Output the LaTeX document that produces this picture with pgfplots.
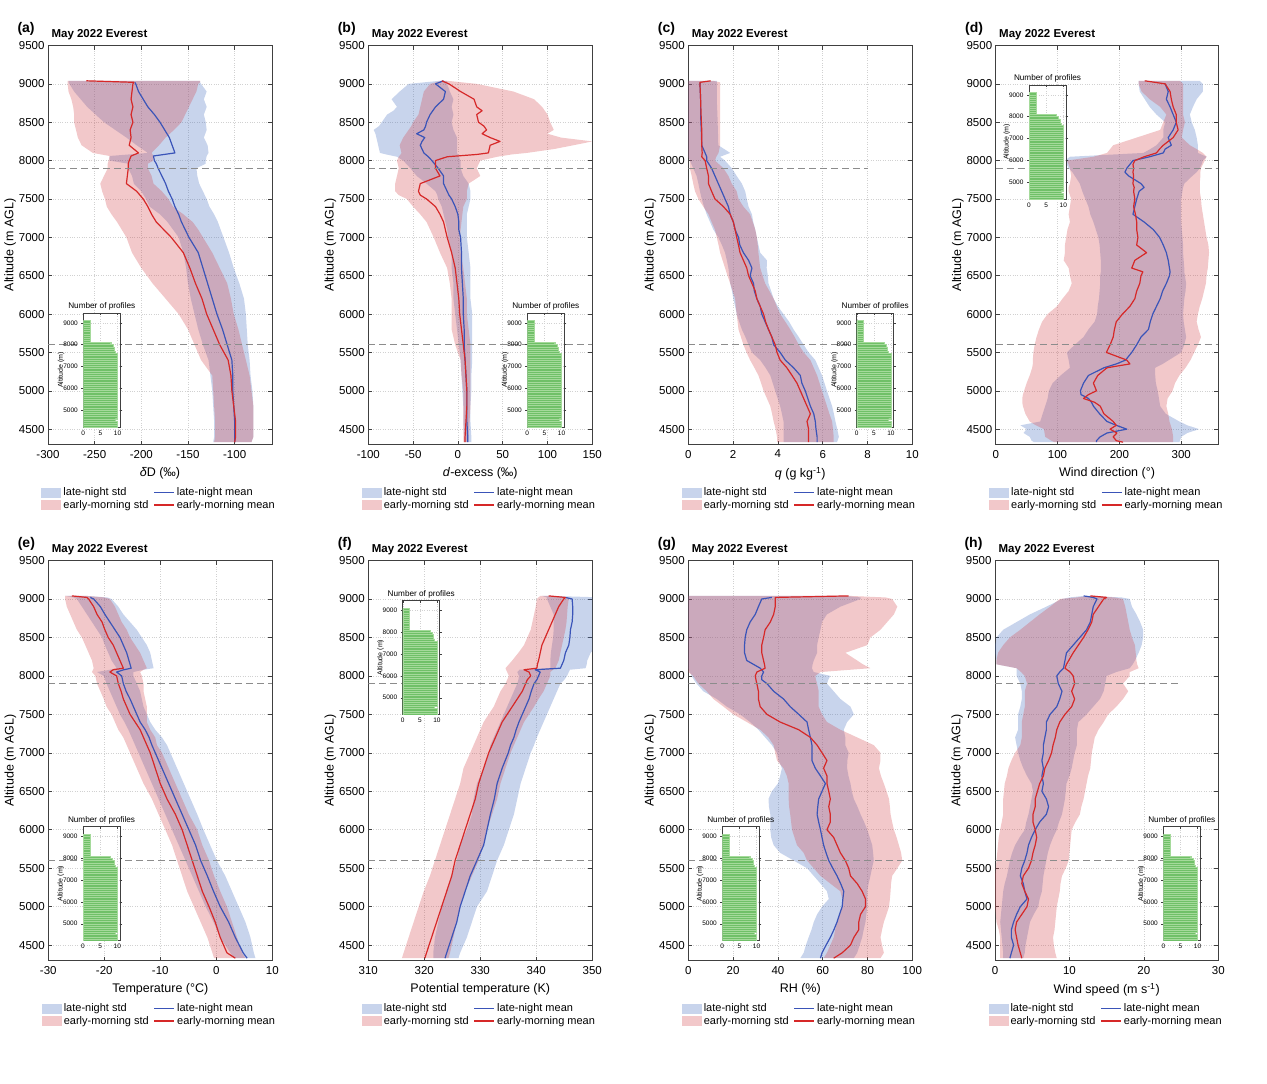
\documentclass[border=0pt]{standalone}
\usepackage{fontspec}
\setmainfont{Liberation Sans}
\usepackage{pgfplots}
\usepackage{pgfplotstable}
\pgfplotsset{compat=1.18}

\definecolor{bandblue}{RGB}{72,112,192}
\definecolor{bandred}{RGB}{212,72,78}
\definecolor{meanblue}{RGB}{58,84,184}
\definecolor{meanred}{RGB}{214,40,40}
\definecolor{histgreen}{RGB}{112,192,104}
\definecolor{histedge}{RGB}{165,218,155}

\pgfplotsset{
  every axis/.append style={/pgf/number format/assume math mode=true, /pgf/number format/1000 sep={}},
  prof/.style={
    scale only axis, width=224pt, height=399pt,
    ymin=4300, ymax=9500, ytick={4500,5000,...,9500},
    scaled ticks=false,
    tick align=inside, tick pos=both,
    major tick length=4pt,
    grid=major, major grid style={dotted, black!18, line width=0.5pt},
    axis line style={black!75, line width=0.6pt},
    every tick/.style={black!75, line width=0.5pt},
    tick label style={font=\fontsize{11.5}{13}\selectfont},
    xticklabel style={yshift=-2pt},
    label style={font=\fontsize{12.5}{14}\selectfont},
    xlabel style={yshift=-2pt},
    ylabel={Altitude (m AGL)}, ylabel shift=-4pt,
    legend columns=2,
    legend cell align=left,
    legend style={draw=none, fill=none, at={(-0.03,-0.103)}, anchor=north west,
      font=\fontsize{11}{12}\selectfont, inner sep=0pt, row sep=-1pt},
  },
  inset/.style={
    scale only axis, width=37pt, height=114pt,
    xmin=0, xmax=10.8, ymin=4220, ymax=9450,
    xtick={0,5,10}, ytick={5000,6000,7000,8000,9000},
    tick align=inside, tick pos=both, major tick length=2pt,
    grid=major, major grid style={dotted, black!18, line width=0.4pt},
    axis line style={black!75, line width=0.5pt},
    every tick/.style={black!75, line width=0.4pt},
    tick label style={font=\fontsize{6.5}{7}\selectfont},
    ylabel={Altitude (m)}, ylabel style={font=\fontsize{7}{8}\selectfont, yshift=-8pt},
    title={Number of profiles}, title style={font=\fontsize{8.2}{9}\selectfont, yshift=-7pt},
    axis background/.style={fill=white},
    xbar, bar width=100,
  },
  dline/.style={dash pattern=on 7pt off 4pt, black!45, line width=1pt, forget plot},
  meanleg/.style={legend image code/.code={\draw[##1] (0pt,0pt) -- (20pt,0pt);}},
  bandleg/.style={legend image code/.code={\path[##1] (0pt,-5pt) rectangle (20pt,5pt);}},
}

% closed band outlines: left edge going down, right edge coming up
\newcommand\mkpoly[1]{%
  \pgfplotstablesort[sort key=alt,sort cmp=float >]{\Pdn}{#1}%
  \pgfplotstablesort[sort key=alt,sort cmp=float <]{\Pup}{#1}%
  \pgfplotstablecreatecol[copy column from table={\Pdn}{bl}]{px}{\Pdn}%
  \pgfplotstablecreatecol[copy column from table={\Pdn}{rl}]{qx}{\Pdn}%
  \pgfplotstablecreatecol[copy column from table={\Pup}{bh}]{px}{\Pup}%
  \pgfplotstablecreatecol[copy column from table={\Pup}{rh}]{qx}{\Pup}%
  \pgfplotstablevertcat{\Pdn}{\Pup}%
}
\newcommand\prof[1]{%
  \addplot[fill=bandblue, fill opacity=0.3, draw=none, forget plot] table[x=px,y=alt]{\Pdn};
  \addplot[fill=bandred, fill opacity=0.3, draw=none, forget plot] table[x=qx,y=alt]{\Pdn};
  \addplot[meanblue, line width=1.2pt, line join=round, forget plot] table[x=bm,y=alt]{#1};
  \addplot[meanred, line width=1.2pt, line join=round, forget plot] table[x=rm,y=alt]{#1};
}
\newcommand\legs{%
  \addlegendimage{bandleg, draw=none, fill=bandblue, fill opacity=0.3}
  \addlegendentry{\makebox[88pt][l]{late-night std}}
  \addlegendimage{meanleg, draw=meanblue, line width=1.4pt, no markers}
  \addlegendentry{late-night mean}
  \addlegendimage{bandleg, draw=none, fill=bandred, fill opacity=0.3}
  \addlegendentry{\makebox[88pt][l]{early-morning std}}
  \addlegendimage{meanleg, draw=meanred, line width=1.4pt, no markers}
  \addlegendentry{early-morning mean}
}
\newcommand\heads[2]{%
  \node[anchor=base west, font=\bfseries\fontsize{14}{14}\selectfont] at ([xshift=-34pt,yshift=13pt]#1.north west) {(#2)};
  \node[anchor=base west, font=\bfseries\fontsize{11.5}{12}\selectfont] at ([yshift=8pt]#1.north west) {May 2022 Everest};
}

\pgfplotstableread{
y n
4250 10
4350 10
4450 10
4550 9.3
4650 10
4750 10
4850 10
4950 10
5050 10
5150 10
5250 10
5350 10
5450 10
5550 10
5650 10
5750 10
5850 10
5950 10
6050 10
6150 10
6250 10
6350 10
6450 10
6550 10
6650 10
6750 10
6850 10
6950 10
7050 10
7150 10
7250 10
7350 10
7450 10
7550 10
7650 9.3
7750 9
7850 9
7950 8.6
8050 8
8150 2
8250 2
8350 2
8450 2
8550 2
8650 2
8750 2
8850 2
8950 2
9050 2
}\hist

% (a) deltaD
\pgfplotstableread{
alt bm bl bh rm rl rh
9040 nan -278 -137 -259 -279 -137
9020 -207 -278 -137 -208 -279 -137
9000 -206 -277 -136 -209 -279 -139
8900 -203 -272 -130 -210 -278 -141
8800 -198 -265 -133 -211 -275 -145
8700 -193 -258 -130 -209 -273 -149
8600 -186 -249 -133 -211 -272 -153
8500 -180 -240 -131 -209 -272 -157
8400 -175 -228 -130 -212 -270 -165
8300 -170 -216 -133 -211 -268 -174
8200 -167 -205 -129 -213 -264 -181
8100 -164 -193 -128 -203 -252 -189
8060 -187 -234 -130 -211 -234 -187
8000 -186 -234 -131 -213 -235 -187
7960 -184 -214 -131 -214 -236 -193
7900 -182 -214 -141 -214 -236 -193
7800 -178 -210 -140 -215 -240 -189
7700 -174 -208 -138 -216 -244 -187
7600 -171 -200 -134 -205 -242 -178
7500 -167 -195 -130 -198 -239 -171
7400 -164 -191 -127 -193 -237 -166
7300 -160 -180 -122 -189 -232 -155
7200 -157 -172 -118 -184 -226 -145
7100 -153 -166 -115 -176 -221 -139
7000 -149 -160 -112 -168 -216 -134
6800 -139 -155 -106 -155 -210 -124
6600 -134 -152 -101 -148 -200 -116
6400 -129 -150 -95 -142 -188 -108
6200 -124 -147 -90 -135 -174 -104
6000 -119 -143 -88 -130 -160 -101
5800 -113 -139 -87 -123 -150 -96
5600 -108 -134 -86 -116 -143 -92
5400 -103 -128 -84 -107 -136 -88
5200 -102 -126 -83 -104 -124 -84
5000 -102 -124 -81 -103 -123 -82
4800 -101 -123 -80 -101 -122 -80
4600 -100 -122 -80 -99 -121 -80
4400 -100 -122 -80 -99 -121 -80
4330 -100 -123 -82 -100 -122 -82
}\tabA

% (b) d-excess
\pgfplotstableread{
alt bm bl bh rm rl rh
9040 -16 -20 -12 -18 -18 -12
9000 -25 -55 -12 -10 -31 21
8900 -14 -65 -9 3 -38 62
8800 -16 -74 -5 18 -40 85
8700 -25 -68 -7 21 -42 94
8650 -28 -72 -6 27 -43 97
8600 -31 -79 -5 21 -44 100
8500 -35 -85 -7 23 -50 103
8450 -36 -88 -6 29 -52 105
8400 -38 -94 -5 32 -55 107
8350 -46 -92 -3 27 -58 100
8300 -37 -91 -1 36 -61 115
8250 -40 -90 -1 47 -63 150
8200 -42 -89 -1 36 -65 129
8150 -40 -88 -1 35 -64 107
8100 -38 -87 -1 34 -63 77
8080 -36 -80 0 21 -64 60
8050 -33 -68 1 -12 -66 44
8000 -29 -61 3 -25 -68 25
7900 -22 -53 3 -25 -66 21
7800 -16 -46 6 -20 -68 25
7700 -16 -35 12 -42 -70 12
7600 -12 -25 14 -44 -70 10
7550 -10 -23 14 -42 -66 10
7500 -7 -22 14 -35 -57 10
7400 -3 -18 12 -25 -50 6
7300 0 -16 10 -20 -42 5
7200 1 -14 10 -16 -35 4
7100 1 -12 10 -14 -31 3
7000 3 -11 10 -12 -27 2
6800 4 -7 12 -7 -20 3
6600 4 -7 14 -3 -12 6
6400 5 -5 14 -1 -9 8
6200 6 -5 14 1 -7 10
6000 6 -3 16 2 -7 10
5800 7 -1 16 4 -7 12
5600 7 1 16 6 -3 14
5400 8 3 16 8 3 14
5200 9 4 15 9 4 14
5000 10 5 15 10 6 14
4800 10 6 14 10 6 14
4600 10 6 14 9 6 13
4400 11 7 15 8 6 12
4330 11 7 15 8 6 12
}\tabB

% (c) q
\pgfplotstableread{
alt bm bl bh rm rl rh
9040 nan 0 1.27 1.0 0 1.1
9020 0.55 0 1.27 0.52 0 1.42
9000 0.52 0 1.27 0.52 0 1.42
8800 0.55 0 1.27 0.55 0 1.42
8600 0.55 0 1.3 0.57 0 1.42
8400 0.58 0 1.32 0.6 0 1.42
8200 0.6 0 1.34 0.6 0 1.42
8100 0.75 0 1.87 0.62 0 1.35
8050 0.82 0 1.42 0.6 0 1.25
8000 0.82 0.07 1.64 0.75 0.07 1.19
7900 1.04 0.22 1.94 0.82 0.07 1.57
7800 1.19 0.37 2.16 0.9 0.15 1.79
7700 1.34 0.45 2.39 0.9 0.22 1.94
7600 1.49 0.52 2.54 1.04 0.3 2.16
7500 1.64 0.6 2.61 1.19 0.45 2.24
7400 1.79 0.7 2.69 1.57 0.67 2.46
7300 1.87 0.82 2.84 1.87 0.9 2.76
7200 2.01 0.97 2.9 2.01 1.04 2.88
7100 2.09 1.12 2.99 2.09 1.19 2.99
7000 2.24 1.34 3.06 2.16 1.27 3.06
6900 2.3 1.5 3.13 2.24 1.35 3.1
6800 2.46 1.64 3.21 2.31 1.42 3.13
6700 2.69 1.72 3.51 2.46 1.53 3.17
6600 2.84 1.79 3.5 2.61 1.64 3.21
6500 2.76 1.83 3.55 2.69 1.75 3.32
6400 2.91 1.87 3.58 2.84 1.87 3.43
6300 2.95 1.95 3.7 2.99 1.98 3.62
6200 3.06 2.01 3.81 3.06 2.09 3.81
6100 3.21 2.09 4.0 3.21 2.12 3.95
6000 3.28 2.16 4.25 3.36 2.16 4.1
5900 3.43 2.27 4.5 3.45 2.2 4.33
5800 3.58 2.39 4.7 3.58 2.24 4.55
5700 3.73 2.55 4.93 3.73 2.35 4.75
5600 3.81 2.69 5.15 3.88 2.46 4.93
5500 4.1 2.84 5.37 3.96 2.6 5.15
5400 4.33 3.21 5.67 4.1 2.76 5.45
5300 4.7 3.45 5.82 4.4 2.95 5.6
5200 5.0 3.66 5.97 4.63 3.13 5.75
5100 5.07 3.77 6.08 4.85 3.25 5.86
5000 5.22 3.88 6.19 5.0 3.36 5.97
4800 5.45 4.1 6.42 5.3 3.66 6.19
4700 5.6 4.18 6.5 5.45 3.74 6.3
4600 5.67 4.25 6.57 5.3 3.81 6.42
4500 5.7 4.25 6.65 5.37 3.9 6.46
4400 5.75 4.25 6.72 5.37 3.96 6.49
4330 5.75 4.25 6.64 5.37 3.96 6.49
}\tabC

% (d) wind direction
\pgfplotstableread{
alt bm bl bh rm rl rh
9040 nan 231 330 241 231 298
9000 274 231 335 274 231 303
8900 279 233 335 282 236 303
8800 276 241 325 284 249 303
8700 282 249 319 287 266 303
8600 287 260 314 292 276 303
8500 292 274 317 292 271 306
8400 287 271 322 295 266 303
8300 279 271 325 287 228 301
8200 284 260 327 271 190 314
8150 274 250 327 265 185 325
8100 271 239 327 260 180 335
8050 249 120 341 240 158 341
8000 222 112 335 225 115 338
7950 217 115 333 222 118 335
7900 212 118 330 223 120 332
7850 209 124 325 222 121 331
7800 215 128 318 223 122 331
7700 235 136 305 222 120 330
7650 240 138 303 224 118 330
7600 232 140 302 223 118 330
7500 228 145 300 225 122 332
7400 225 150 300 223 120 333
7300 222 153 300 226 118 335
7200 240 158 300 228 120 337
7100 255 162 301 228 116 339
7000 265 166 302 230 114 341
6900 271 168 303 228 112 344
6800 276 169 303 244 112 345
6700 279 170 304 225 110 344
6600 281 170 305 220 118 343
6550 282 170 305 238 119 342
6500 281 169 306 235 120 341
6400 276 169 308 233 123 340
6300 270 168 307 228 118 337
6200 266 167 305 225 108 334
6100 260 165 304 217 99 330
6000 254 164 303 205 84 327
5900 250 160 304 195 75 325
5800 247 150 306 192 70 328
5700 235 142 308 190 66 332
5600 228 128 305 185 63 327
5500 220 115 300 179 61 321
5400 210 118 280 212 60 315
5350 195 119 270 217 60 311
5300 175 120 258 180 59 307
5200 150 105 258 165 55 297
5100 142 92 259 158 50 290
5000 137 86 262 163 46 286
4950 138 85 263 150 44 282
4900 150 84 264 142 43 278
4850 155 82 265 160 43 277
4800 158 80 266 169 44 276
4700 168 76 275 175 48 279
4600 180 72 297 190 55 281
4550 195 40 310 195 65 283
4500 212 50 329 185 78 285
4450 180 45 310 196 79 286
4400 169 55 300 190 80 287
4350 163 58 298 195 90 287
4330 163 62 297 206 95 287
}\tabD

% (e) temperature
\pgfplotstableread{
alt bm bl bh rm rl rh
9040 nan -27 -23.1 -25.8 -27 -23.1
9020 -22.5 -25.5 -19.5 -23.1 -27 -20
9000 -21.9 -24.9 -18.7 -22.8 -27 -19
8900 -20.7 -24 -17.5 -21.9 -26.7 -18.1
8800 -19.9 -23.1 -16.6 -21.3 -26.1 -17.5
8700 -19 -22.2 -15.4 -20.4 -25.5 -16.9
8600 -18.1 -21.3 -14.2 -19.9 -24.9 -16
8500 -17.2 -20.4 -13.3 -19.3 -24 -15.4
8400 -16.6 -19.9 -12.4 -18.4 -23.4 -14.5
8300 -16 -19.3 -11.8 -17.8 -22.8 -13.6
8200 -15.6 -18.7 -11.5 -17.2 -22.2 -13
8100 -15.2 -17.8 -11.2 -16.6 -21.9 -12.4
8080 -16.5 -19 -13 -18.4 -22 -13
8050 -17.8 -21.3 -14.8 -19 -22.2 -13.6
8000 -16.9 -20.1 -14.8 -17.8 -21.6 -13.3
7900 -16.6 -19.6 -14.2 -17.5 -21.3 -13
7800 -16.1 -19 -13.6 -17 -20.7 -13
7700 -15.4 -18.4 -13.3 -16.6 -20.1 -12.7
7600 -14.8 -17.8 -13 -16 -19.6 -12.4
7500 -14.2 -17.2 -12.4 -15.4 -18.7 -12.4
7400 -13.6 -16.4 -11.8 -14.5 -18.1 -12.4
7300 -12.7 -15.7 -10.9 -13.6 -17.5 -11.8
7200 -12 -15.1 -9.7 -13 -16.6 -10.9
7100 -11.5 -14.5 -8.8 -12.4 -16 -10.6
7000 -10.9 -13.9 -8.2 -11.8 -15.4 -9.7
6800 -9.7 -12.7 -7 -10.9 -14.2 -8.5
6600 -8.5 -11.5 -5.8 -10 -13 -7.3
6400 -7.3 -10.3 -4.6 -8.8 -11.5 -6.1
6200 -6.1 -9.1 -3.4 -7.3 -10.3 -4.9
6000 -4.9 -7.9 -2.3 -6.1 -9.1 -3.4
5800 -3.7 -6.7 -1.1 -5.2 -7.9 -2.5
5600 -2.8 -5.5 0.1 -4.3 -7 -1.3
5400 -1.6 -4.3 1.6 -3.4 -6.1 -0.4
5200 -0.5 -3.1 2.8 -2.5 -5.2 0.7
5000 0.7 -1.9 4 -1.3 -4 1.9
4800 2.2 -0.5 5.2 -0.2 -2.8 2.8
4600 3.4 0.7 6.1 0.7 -1.6 3.7
4400 4.8 2.5 6.7 1.9 -0.7 4.6
4330 5.5 3.1 7 3.4 -0.4 5.2
}\tabE

% (f) potential temperature
\pgfplotstableread{
alt bm bl bh rm rl rh
9040 nan 341 342.5 342.2 340.7 342.5
9020 345.2 341.9 352 345.2 340.4 345.5
9000 346.4 341.9 352 344.9 340.1 345.8
8900 346.5 342.5 352 344 339.9 345.6
8800 346.5 343.1 352 343.4 339.6 345.5
8700 346.4 343.1 352 342.8 339.3 345.4
8600 346.1 343.1 352 342.2 339 345.2
8500 346 343 352 341.6 338.4 344.9
8400 345.8 342.8 351 341 337.8 344.6
8300 345.2 342.6 349.7 340.7 336.8 344.3
8200 344.9 342.5 349.1 340.4 335.7 344
8150 344.6 342.5 349 340.2 335.1 343.7
8100 344.3 342.5 348.8 340.1 334.5 343.4
8080 339.8 337 346 337.8 334.6 343
8050 340.7 336.6 345.8 338.7 334.8 342.5
8000 340.4 336.9 345.5 339 335.1 342.5
7950 340.1 336.8 345 338.4 334.8 342.2
7900 339.6 336.6 344.3 338.1 334.5 341.9
7800 339.1 336 343.7 337.5 333.6 341.3
7700 338.7 335.4 343.1 336.6 333 340.4
7600 338.1 334.8 342.5 335.7 332.4 339.6
7500 337.5 334.2 341.9 334.8 331.5 338.7
7400 336.9 333.6 341.3 333.9 330.6 337.8
7300 336.4 333 340.7 333.3 330 337.2
7200 336 332.4 340.1 332.7 329.4 336.6
7100 335.4 331.8 339.6 332.1 328.8 336
7000 335 331.5 339 331.5 328.2 335.4
6800 333.9 330.6 338.1 330.6 327 334.5
6600 333 329.4 337.2 329.7 326.4 333.6
6400 332.5 328.8 336.6 329.1 325.5 333
6200 331.8 328.5 336 328.2 324.6 332.1
6000 331.2 327.6 335.1 327.3 323.7 331.2
5800 330.6 326.4 334.2 326.4 322.8 330.6
5600 329.4 325.8 333 325.5 321.9 329.7
5400 328.2 324.9 332.1 324.9 321 328.5
5200 327.3 324 331.2 324 319.9 327.3
5000 326.4 323.1 329.4 323.1 319 326.4
4800 325.8 322.5 328.5 322.2 318.1 325.8
4600 324.9 321.9 327.6 321.3 317.2 325.2
4400 324 321.6 326.4 320.4 316.3 324.6
4330 323.7 321.6 326.1 320.1 316 324.3
}\tabF

% (g) RH
\pgfplotstableread{
alt bm bl bh rm rl rh
9040 nan 0 70 71.6 0 72
9020 37.3 0 76.9 38.8 0 88
9000 32.8 0 76.9 38.8 0 91
8900 31.3 0 67.9 38.8 0 93.3
8800 29.9 0 61.9 38.1 0 91.8
8700 27.6 0 59.7 36.6 0 88.8
8600 26.1 0 59 34.3 0 85.8
8500 25.4 0 58.2 33.6 0 81.3
8400 25.1 0 57.5 32.8 0 79.9
8300 25.1 0 57.5 32.8 0 70.1
8200 26.1 0 56 33.6 0 75.4
8150 29.1 0 55.5 34 0 78
8100 32.1 0 55.2 34.3 0 81.3
8050 33.6 0.7 56 30.6 0 59
8000 32.8 1.5 63.4 29.9 2.2 56.7
7950 32.8 2.5 62.5 30.2 3.3 57
7900 35.1 3.7 61.9 30.6 4.5 57.5
7800 38.1 6.7 64.9 31.3 8.2 58.2
7700 42.5 12.7 67.9 31.3 11.2 58.2
7600 45.5 17.2 72.4 32.1 15.7 58.2
7500 49.3 23.1 73.9 35.1 20.1 59.7
7400 53 27.6 70.9 41 26.1 61.9
7300 53.7 31.3 69.4 49.3 32.1 67.9
7200 54.5 34.3 70.1 54.5 35.8 75.4
7100 55.2 37.3 70.1 57.5 38.1 82.8
7000 55.2 39.6 71.6 59.7 38.8 85.8
6900 55.2 40.3 71 61.9 39.6 85.8
6800 56.7 41.8 70.9 60.4 42.5 85.1
6700 59 41 71.5 61.9 44 86
6600 61.2 40 72.4 61.9 44.8 87.3
6500 59.7 37.3 73 62.7 44.8 88.5
6400 58.2 35.8 73.9 63.4 44.8 89.6
6300 57.8 36 75.5 62.7 45 90
6200 57.5 36.6 76.9 63.4 45.5 90.3
6100 58.2 36.6 78.5 63.4 45.9 91
6000 59 36.6 79.9 61.9 46.3 91.8
5900 59.7 37 81 64.9 47.4 93
5800 60.4 38.1 82.1 66.4 48.5 94
5700 61.5 41 82.5 67.9 51.5 95
5600 62.7 47 82.8 70.1 53 95.5
5500 64.5 53 82 71.6 56 93.3
5400 66.4 56 81.3 72.4 59 91
5300 68 59 80.5 75.4 63.4 90.5
5200 69.4 61.9 79.9 77.6 67.9 90.3
5100 69 62.7 79.9 79.1 68.7 90
5000 68.7 59.7 79.9 79.1 68.7 89.6
4900 67.5 57.5 79.5 76.9 67.5 88.5
4800 66.4 56 79.1 76.1 66.4 87.3
4700 65 55 78.3 76.1 65.6 86.5
4600 63.4 53.7 77.6 73.9 64.9 85.8
4500 61.5 52.5 76.5 72.4 63.4 86.5
4400 59.7 51.5 75.4 68.7 61.9 87.3
4330 59 50 73.9 64.9 60.4 85.8
}\tabG

% (h) wind speed
\pgfplotstableread{
alt bm bl bh rm rl rh
9040 11.9 12 12.5 12.8 12.8 13.5
9020 13.2 10 17 15 11 16
9000 13.7 9 18.1 14.6 8.7 17.2
8900 13.2 6.9 18.4 13.9 7.4 17.5
8800 13 4.7 19 13.2 6 17.7
8700 12.8 2.9 19.5 13 4.7 17.9
8600 12.3 1.1 19.9 12.5 3.4 18.1
8500 11.4 0.2 19.9 11.9 2 18.4
8400 10.5 0 19.7 11.2 1.1 18.8
8300 9.6 0 19.3 10.5 0.4 18.9
8200 9.4 0.2 18.8 9.9 0.2 19
8150 9.3 0.2 18.5 9.6 0.2 19.1
8100 9.2 2.9 18.1 9.4 2.9 19.3
8050 8.7 2.9 16.3 10.1 3.5 18.1
8000 8.3 2.9 15 10.5 4 18.1
7900 8.5 3.4 14.8 10.7 4.3 17.2
7800 9 3.6 14.6 10.3 4 17.9
7700 8.7 3.6 14.1 10.7 4 17.2
7600 8.3 3.4 13.2 10.3 4 16.3
7500 7.4 3.1 12.3 9.4 3.8 15.2
7400 6.9 3.1 11.2 8.7 3.6 14.6
7300 6.9 3.1 11 8.3 3.6 13.9
7200 6.7 2.7 11 8.1 3.6 13.4
7100 6.5 2.9 11 7.8 3.4 13.2
7000 6.5 3.1 10.7 7.6 2.7 13
6900 6.3 3.4 10.5 7.2 2.2 12.9
6800 6.5 3.8 10.3 6.7 1.8 12.8
6700 6.3 4.3 10 6.5 1.6 12.5
6600 6.5 4.9 9.6 6 1.3 12.3
6500 6.3 5.1 9.5 5.7 1.2 12.1
6400 6.9 4.9 9.4 5.4 1.1 11.9
6300 7.2 4.7 9.2 5.4 1.1 11.6
6200 6.9 4.5 9 5.1 1.1 11.4
6100 6 4.2 8.6 5.1 0.9 10.8
6000 5.4 4 8.3 5.4 0.7 10.3
5900 4.9 3.3 7.8 5.6 0.5 10.2
5800 4.5 2.7 7.4 5.4 0.4 10.1
5700 4.3 2.3 7.1 5.1 0.3 10
5600 4 2 6.9 4.9 0.2 9.9
5500 3.6 1.8 6.7 4.5 0.1 9.5
5400 3.4 1.6 6.5 3.8 0 9
5300 3.8 1.3 6.4 3.6 0 8.8
5200 4 1.1 6.3 4 0 8.7
5100 4.3 1 6 4.5 0 8.5
5000 3.4 0.9 5.8 4.3 0 8.3
4900 2.9 0.8 5.2 3.6 0.1 8.2
4800 2.5 0.7 4.7 2.9 0.2 8.1
4700 2.2 0.8 4.5 2.7 0.5 8
4600 2.2 0.9 4.3 2.9 0.7 7.8
4500 2.5 1 4.1 3.1 0.7 7.9
4400 2.2 1.1 4 3.4 0.7 8.1
4330 2 1.1 3.8 3.6 0.7 8.3
}\tabH

\begin{document}
\begin{tikzpicture}
\path[use as bounding box] (0pt,0pt) rectangle (1267pt,-1084pt);

% ---------- (a)
\mkpoly{\tabA}
\begin{axis}[prof, name=A, at={(48pt,-45.5pt)}, anchor=north west,
  xmin=-300, xmax=-60, xtick={-300,-250,...,-100},
  xlabel={{\itshape δ}D (‰)}]
\prof{\tabA}
\addplot[dline] coordinates {(-300,7900) (-60,7900)};
\addplot[dline] coordinates {(-300,5600) (-60,5600)};
\legs
\end{axis}
\heads{A}{a}

% ---------- (b)
\mkpoly{\tabB}
\begin{axis}[prof, name=B, at={(368.3pt,-45.5pt)}, anchor=north west,
  xmin=-100, xmax=150, xtick={-100,-50,...,150},
  xlabel={\textit{d}-excess (‰)}]
\prof{\tabB}
\addplot[dline] coordinates {(-100,7900) (150,7900)};
\addplot[dline] coordinates {(-100,5600) (150,5600)};
\legs
\end{axis}
\heads{B}{b}

% ---------- (c)
\mkpoly{\tabC}
\begin{axis}[prof, name=C, at={(688.3pt,-45.5pt)}, anchor=north west,
  xmin=0, xmax=10, xtick={0,2,...,10},
  xlabel={\textit{q} (g kg\textsuperscript{-1})}]
\prof{\tabC}
\addplot[dline] coordinates {(0,7900) (8,7900)};
\addplot[dline] coordinates {(0,5600) (8,5600)};
\legs
\end{axis}
\heads{C}{c}

% ---------- (d)
\mkpoly{\tabD}
\begin{axis}[prof, name=D, at={(995.7pt,-45.5pt)}, anchor=north west, width=222.6pt,
  xmin=0, xmax=360, xtick={0,100,200,300},
  xlabel={Wind direction (°)}]
\prof{\tabD}
\addplot[dline] coordinates {(0,7900) (360,7900)};
\addplot[dline] coordinates {(0,5600) (360,5600)};
\legs
\end{axis}
\heads{D}{d}

% ---------- (e)
\mkpoly{\tabE}
\begin{axis}[prof, name=E, at={(48.3pt,-560.5pt)}, anchor=north west, height=400pt,
  xmin=-30, xmax=10, xtick={-30,-20,...,10},
  xlabel={Temperature (°C)}]
\prof{\tabE}
\addplot[dline] coordinates {(-30,7900) (10,7900)};
\addplot[dline] coordinates {(-30,5600) (10,5600)};
\legs
\end{axis}
\heads{E}{e}

% ---------- (f)
\mkpoly{\tabF}
\begin{axis}[prof, name=F, at={(368.3pt,-560.5pt)}, anchor=north west, height=400pt,
  xmin=310, xmax=350, xtick={310,320,...,350},
  xlabel={Potential temperature (K)}]
\prof{\tabF}
\addplot[dline] coordinates {(310,7900) (350,7900)};
\addplot[dline] coordinates {(310,5600) (350,5600)};
\legs
\end{axis}
\heads{F}{f}

% ---------- (g)
\mkpoly{\tabG}
\begin{axis}[prof, name=G, at={(688.3pt,-560.5pt)}, anchor=north west, height=400pt,
  xmin=0, xmax=100, xtick={0,20,...,100},
  xlabel={RH (\%)}]
\prof{\tabG}
\addplot[dline] coordinates {(0,7900) (100,7900)};
\addplot[dline] coordinates {(0,5600) (100,5600)};
\legs
\end{axis}
\heads{G}{g}

% ---------- (h)
\mkpoly{\tabH}
\begin{axis}[prof, name=H, at={(995pt,-560.5pt)}, anchor=north west, height=400pt, width=223.3pt,
  xmin=0, xmax=30, xtick={0,10,20,30},
  xlabel={Wind speed (m s\textsuperscript{-1})}]
\prof{\tabH}
\addplot[dline] coordinates {(0,7900) (25,7900)};
\addplot[dline] coordinates {(0,5600) (25,5600)};
\legs
\end{axis}
\heads{H}{h}

% ---------- insets
\begin{axis}[inset, at={(83.3pt,-313pt)}, anchor=north west]
\addplot[fill=histgreen, draw=histedge, line width=0.3pt] table[x=n,y=y]{\hist};
\end{axis}
\begin{axis}[inset, at={(527.3pt,-313pt)}, anchor=north west]
\addplot[fill=histgreen, draw=histedge, line width=0.3pt] table[x=n,y=y]{\hist};
\end{axis}
\begin{axis}[inset, at={(856.7pt,-313pt)}, anchor=north west]
\addplot[fill=histgreen, draw=histedge, line width=0.3pt] table[x=n,y=y]{\hist};
\end{axis}
\begin{axis}[inset, at={(1029pt,-85pt)}, anchor=north west]
\addplot[fill=histgreen, draw=histedge, line width=0.3pt] table[x=n,y=y]{\hist};
\end{axis}
\begin{axis}[inset, at={(83pt,-826.7pt)}, anchor=north west]
\addplot[fill=histgreen, draw=histedge, line width=0.3pt] table[x=n,y=y]{\hist};
\end{axis}
\begin{axis}[inset, at={(402.7pt,-600.7pt)}, anchor=north west]
\addplot[fill=histgreen, draw=histedge, line width=0.3pt] table[x=n,y=y]{\hist};
\end{axis}
\begin{axis}[inset, at={(722.3pt,-826.7pt)}, anchor=north west]
\addplot[fill=histgreen, draw=histedge, line width=0.3pt] table[x=n,y=y]{\hist};
\end{axis}
\begin{axis}[inset, at={(1163.3pt,-826.7pt)}, anchor=north west]
\addplot[fill=histgreen, draw=histedge, line width=0.3pt] table[x=n,y=y]{\hist};
\end{axis}
\end{tikzpicture}
\end{document}
